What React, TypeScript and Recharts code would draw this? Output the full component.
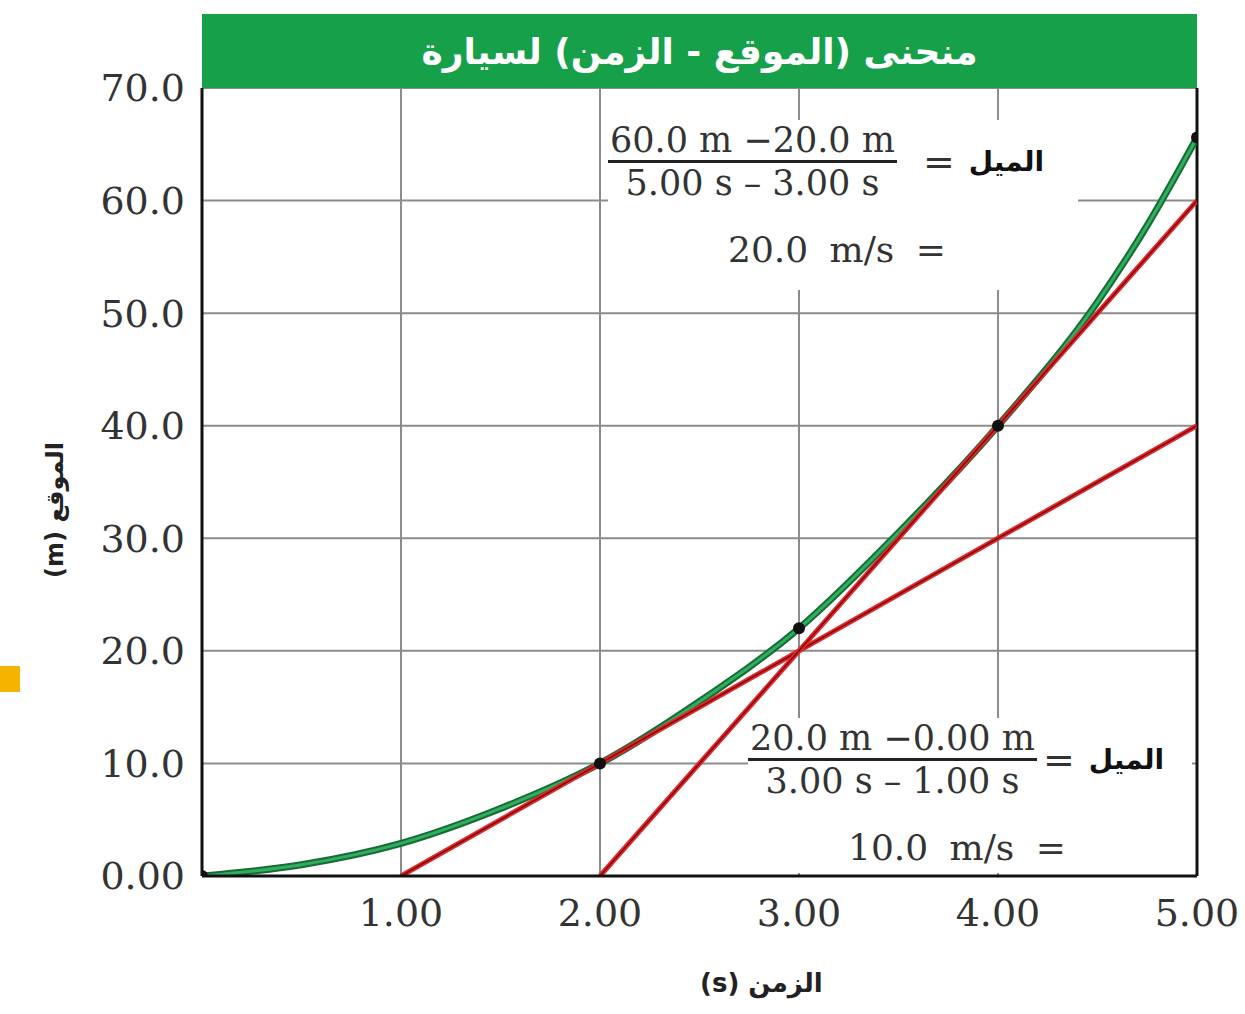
import React from "react";
import { ComposedChart, Line, Scatter, XAxis, YAxis, CartesianGrid, ReferenceLine } from "recharts";

// position-time curve of the car
const curveTime = [0, 0.5, 1, 1.5, 2, 2.5, 3, 3.5, 4, 4.5, 4.75, 5];
const curvePosition = [0, 1.0, 2.9, 6.0, 10, 15.5, 22, 30.5, 40, 51, 57.8, 65.6];

// tangent lines
const tangentATime = [1, 5];
const tangentAPosition = [0, 40];
const tangentBTime = [2, 5];
const tangentBPosition = [0, 60];

// marked points
const pointTime = [0, 2, 3, 4, 5];
const pointPosition = [0, 10, 22, 40, 65.6];

const xTicks = [1, 2, 3, 4, 5];
const yTicks = [0, 10, 20, 30, 40, 50, 60, 70];

const title = "منحنى (الموقع - الزمن) لسيارة";
const xLabel = "الزمن (s)";
const yLabel = "الموقع (m)";
const slopeWord = "الميل";

const zip = (xs: number[], ys: number[]) => xs.map((t, i) => ({ t, x: ys[i] }));

const curveData = zip(curveTime, curvePosition);
const tangentA = zip(tangentATime, tangentAPosition);
const tangentB = zip(tangentBTime, tangentBPosition);
const pointData = zip(pointTime, pointPosition);

const serif = "'DejaVu Serif', serif";
const arabic = "'DejaVu Sans', sans-serif";

function Slope({ left, top, width, height, num, den, result, resultLeft, eqGap }: any) {
  return (
    <div style={{ position: "absolute", left, top, width, height, background: "#fff", fontFamily: serif, color: "#333" }}>
      <div style={{ display: "flex", alignItems: "center" }}>
        <div style={{ display: "inline-block", textAlign: "center", fontSize: 35, lineHeight: "40px" }}>
          <div style={{ borderBottom: "3px solid #222", padding: "0 2px" }}>{num}</div>
          <div>{den}</div>
        </div>
        <span style={{ fontSize: 38, margin: `0 14px 0 ${eqGap}px` }}>=</span>
        <span style={{ fontFamily: arabic, fontWeight: "bold", fontSize: 28, color: "#111" }}>{slopeWord}</span>
      </div>
      <div style={{ fontSize: 36, marginTop: 26, marginLeft: resultLeft, wordSpacing: 10 }}>{result}</div>
    </div>
  );
}

export default function App() {
  const fmtY = (v: number) => (v === 0 ? "0.00" : v.toFixed(1));
  return (
    <div style={{ position: "absolute", left: 0, top: 0, width: 1245, height: 1014, background: "#fff", overflow: "hidden" }}>
      <ComposedChart width={1245} height={1014} margin={{ top: 88, right: 48, bottom: 108, left: 102 }}>
        <CartesianGrid stroke="#8c8c8c" strokeWidth={2} />
        <XAxis
          dataKey="t"
          type="number"
          domain={[0, 5]}
          ticks={xTicks}
          height={30}
          tickFormatter={(v: number) => v.toFixed(2)}
          axisLine={{ stroke: "#111", strokeWidth: 3 }}
          tickLine={false}
          tickMargin={17}
          tick={{ fill: "#333", fontSize: 38, fontFamily: serif }}
          allowDataOverflow
        />
        <YAxis
          dataKey="x"
          type="number"
          domain={[0, 70]}
          ticks={yTicks}
          tickFormatter={fmtY}
          width={100}
          axisLine={{ stroke: "#111", strokeWidth: 3 }}
          tickLine={false}
          tickMargin={11}
          tick={{ fill: "#333", fontSize: 38, fontFamily: serif }}
          allowDataOverflow
        />
        <ReferenceLine x={5} stroke="#111" strokeWidth={3} />
        <Line data={curveData} dataKey="x" type="monotone" stroke="#176b35" strokeWidth={7} dot={false} isAnimationActive={false} />
        <Line data={curveData} dataKey="x" type="monotone" stroke="#2fae5f" strokeWidth={3} dot={false} isAnimationActive={false} />
        <Line data={tangentA} dataKey="x" stroke="#e3262b" strokeWidth={5} dot={false} isAnimationActive={false} />
        <Line data={tangentA} dataKey="x" stroke="#7a0d0d" strokeWidth={1.5} dot={false} isAnimationActive={false} />
        <Line data={tangentB} dataKey="x" stroke="#e3262b" strokeWidth={5} dot={false} isAnimationActive={false} />
        <Line data={tangentB} dataKey="x" stroke="#7a0d0d" strokeWidth={1.5} dot={false} isAnimationActive={false} />
        <Scatter
          data={pointData}
          dataKey="x"
          isAnimationActive={false}
          shape={(p: any) => <circle cx={p.cx} cy={p.cy} r={6} fill="#111" />}
        />
      </ComposedChart>

      {/* title bar */}
      <div
        style={{
          position: "absolute", left: 202, top: 14, width: 995, height: 74, background: "#17a04a",
          color: "#fff", fontFamily: arabic, fontWeight: "bold", fontSize: 36,
          display: "flex", alignItems: "center", justifyContent: "center", direction: "rtl",
        }}
      >
        {title}
      </div>

      {/* axis titles */}
      <div style={{ position: "absolute", left: 700, top: 968, fontFamily: arabic, fontWeight: "bold", fontSize: 26, color: "#222", direction: "rtl" }}>
        {xLabel}
      </div>
      <div
        style={{
          position: "absolute", left: 55, top: 510, transform: "translate(-50%, -50%) rotate(-90deg)",
          fontFamily: arabic, fontWeight: "bold", fontSize: 24, color: "#222", whiteSpace: "nowrap", direction: "rtl",
        }}
      >
        {yLabel}
      </div>
      <div style={{ position: "absolute", left: 0, top: 666, width: 20, height: 26, background: "#f5b400" }} />

      <Slope left={608} top={120} width={470} height={170} num="60.0 m −20.0 m" den="5.00 s – 3.00 s" result="20.0 m/s =" resultLeft={120} eqGap={26} />
      <Slope left={748} top={718} width={444} height={155} num="20.0 m −0.00 m" den="3.00 s – 1.00 s" result="10.0 m/s =" resultLeft={100} eqGap={6} />
    </div>
  );
}
